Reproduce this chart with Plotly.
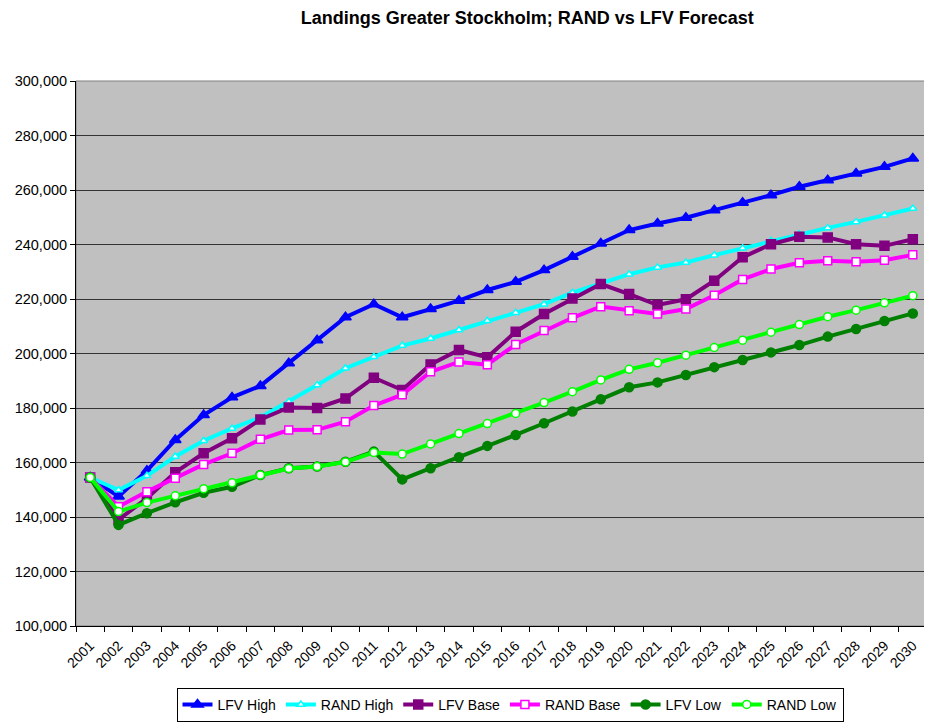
import plotly.graph_objects as go

years = [str(y) for y in range(2001, 2031)]

lfv_high = [154500, 147500, 157000, 168300, 177400, 183900, 188100, 196400, 204900, 213300,
            218100, 213300, 216300, 219400, 223300, 226300, 230600, 235500, 240400, 245300,
            247700, 249800, 252600, 255300, 258100, 261200, 263600, 266100, 268500, 271600]
rand_high = [154500, 149900, 155100, 162200, 168000, 172500, 176500, 182300, 188400, 194600,
             198800, 202900, 205500, 208600, 212000, 215000, 218100, 222300, 225700, 229100,
             231600, 233400, 236100, 238600, 241400, 243800, 246100, 248300, 250700, 253200]
lfv_base = [154500, 139000, 146900, 156400, 163400, 168900, 175800, 180200, 180000, 183500,
            191100, 186600, 196000, 201300, 198600, 208000, 214500, 220200, 225500, 221800,
            217800, 219900, 226700, 235300, 240100, 242800, 242600, 240100, 239500, 241900]
rand_base = [154500, 143800, 149300, 154200, 159300, 163400, 168500, 171900, 172000, 175000,
             180900, 184900, 193300, 196900, 195900, 203300, 208400, 213100, 217200, 215700,
             214500, 216300, 221400, 227200, 231000, 233300, 234000, 233700, 234200, 236200]
lfv_low = [154500, 137100, 141400, 145400, 148900, 151100, 155400, 157900, 158500, 160300,
           164000, 153800, 157900, 161900, 166100, 170100, 174400, 178700, 183200, 187600,
           189400, 192100, 195000, 197600, 200400, 203100, 206200, 209000, 211900, 214700]
rand_low = [154500, 142000, 145300, 147800, 150400, 152600, 155400, 157800, 158500, 160200,
            163700, 163100, 166800, 170600, 174300, 178000, 182000, 186000, 190300, 194200,
            196600, 199400, 202200, 204900, 207800, 210600, 213500, 215900, 218600, 221200]

series = [
    ("LFV High", lfv_high, "#0000FF", "triangle-up", "#0000FF", 10),
    ("RAND High", rand_high, "#00FFFF", "triangle-up", "#FFFFFF", 7),
    ("LFV Base", lfv_base, "#800080", "square", "#800080", 9),
    ("RAND Base", rand_base, "#FF00FF", "square", "#FFFFFF", 8),
    ("LFV Low", lfv_low, "#008000", "circle", "#008000", 9),
    ("RAND Low", rand_low, "#00FF00", "circle", "#FFFFFF", 8),
]

fig = go.Figure()
for name, vals, col, sym, fill, size in series:
    fig.add_trace(go.Scatter(
        x=years, y=vals, name=name, mode="lines+markers",
        line=dict(color=col, width=4),
        marker=dict(symbol=sym, size=size, color=fill, line=dict(color=col, width=1.5)),
    ))

font_main = "Arial, Liberation Sans, sans-serif"

# page body has an 8px default margin; figure sized to fill the 932x724 window
fig.update_layout(
    width=924, height=716,
    margin=dict(l=68, r=5, t=73, b=98, autoexpand=False),
    paper_bgcolor="white", plot_bgcolor="#C0C0C0",
    font=dict(family=font_main, size=14, color="black"),
    title=dict(text="<b>Landings Greater Stockholm; RAND vs LFV Forecast</b>",
               x=0.562, xanchor="center", y=0.987, yanchor="middle",
               font=dict(family=font_main, size=18, color="black")),
    showlegend=True,
    legend=dict(orientation="h", x=0.51, xanchor="center",
                yref="container", y=0.003, yanchor="bottom",
                bordercolor="black", borderwidth=1, bgcolor="white",
                font=dict(family=font_main, size=14), itemwidth=30,
                tracegroupgap=0),
    xaxis=dict(type="category", range=[-0.5, 29.5], tickangle=-45,
               ticks="outside", tickson="boundaries", ticklen=5, tickcolor="black",
               ticklabelstandoff=5,
               showline=True, linecolor="black", linewidth=1, automargin=False,
               showgrid=False, tickfont=dict(size=14, family=font_main)),
    yaxis=dict(range=[100000, 300000], dtick=20000, tickformat=",d",
               ticks="outside", ticklen=5, tickcolor="black",
               showline=True, linecolor="black", linewidth=1, automargin=False,
               showgrid=True, gridcolor="#333333", gridwidth=1,
               tickfont=dict(size=14.5, family=font_main)),
)
fig.add_shape(type="rect", xref="paper", yref="paper", x0=0, x1=1, y0=0, y1=1,
              line=dict(color="#808080", width=1), layer="below")

fig.write_html("out.html")
